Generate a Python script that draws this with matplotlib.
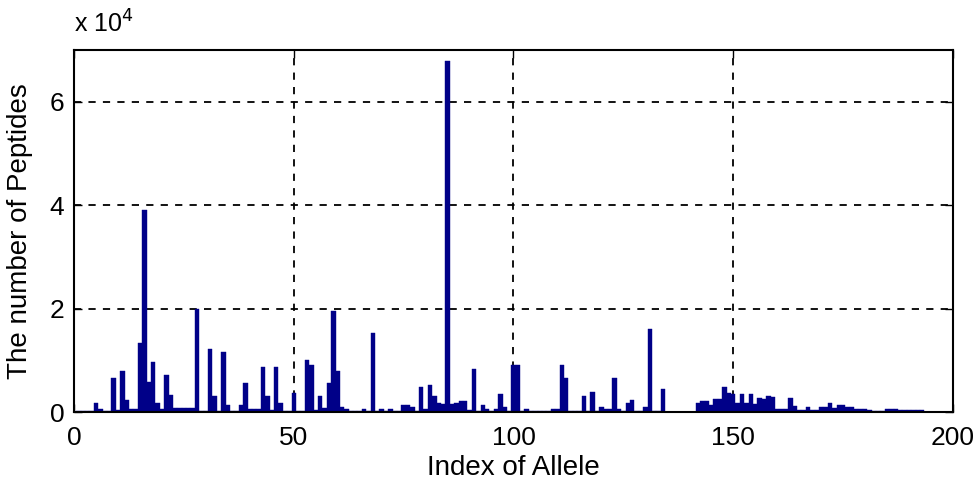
import matplotlib.pyplot as plt
import numpy as np
from matplotlib.ticker import FuncFormatter

# peptide counts per allele, read in units of 10^4 (allele 1..193)
counts_1e4 = [
    0.02, 0.02, 0.02, 0.02, 0.18, 0.06, 0.02, 0.02, 0.65, 0.04,   # 1-10
    0.79, 0.23, 0.05, 0.05, 1.34, 3.90, 0.58, 0.97, 0.18, 0.05,   # 11-20
    0.71, 0.33, 0.08, 0.08, 0.08, 0.08, 0.08, 1.99, 0.02, 0.02,   # 21-30
    1.21, 0.31, 0.02, 1.17, 0.13, 0.02, 0.02, 0.13, 0.57, 0.06,   # 31-40
    0.06, 0.06, 0.87, 0.31, 0.03, 0.87, 0.18, 0.02, 0.02, 0.36,   # 41-50
    0.02, 0.02, 1.00, 0.91, 0.03, 0.31, 0.08, 0.57, 1.96, 0.79,   # 51-60
    0.10, 0.05, 0.02, 0.02, 0.02, 0.05, 0.02, 1.52, 0.02, 0.05,   # 61-70
    0.02, 0.05, 0.02, 0.02, 0.13, 0.13, 0.10, 0.02, 0.49, 0.05,   # 71-80
    0.52, 0.31, 0.18, 0.15, 6.78, 0.15, 0.18, 0.22, 0.22, 0.03,   # 81-90
    0.83, 0.02, 0.14, 0.05, 0.02, 0.05, 0.35, 0.10, 0.02, 0.91,   # 91-100
    0.91, 0.02, 0.05, 0.02, 0.02, 0.02, 0.02, 0.02, 0.05, 0.05,   # 101-110
    0.91, 0.65, 0.02, 0.02, 0.02, 0.31, 0.02, 0.39, 0.02, 0.09,   # 111-120
    0.05, 0.05, 0.65, 0.05, 0.02, 0.18, 0.23, 0.02, 0.02, 0.09,   # 121-130
    1.60, 0.02, 0.02, 0.44, 0.01, 0.01, 0.01, 0.01, 0.01, 0.01,   # 131-140
    0.01, 0.18, 0.22, 0.22, 0.14, 0.25, 0.25, 0.48, 0.37, 0.35,   # 141-150
    0.18, 0.35, 0.18, 0.35, 0.16, 0.27, 0.25, 0.31, 0.30, 0.05,   # 151-160
    0.05, 0.05, 0.27, 0.12, 0.03, 0.03, 0.10, 0.04, 0.04, 0.10,   # 161-170
    0.10, 0.17, 0.08, 0.14, 0.14, 0.10, 0.10, 0.05, 0.05, 0.05,   # 171-180
    0.04, 0.02, 0.02, 0.02, 0.06, 0.06, 0.06, 0.03, 0.03, 0.03,   # 181-190
    0.03, 0.03, 0.03,                                             # 191-193
]
allele_index = np.arange(1, len(counts_1e4) + 1)
peptides = np.array(counts_1e4) * 1e4

plt.rcParams['font.family'] = ['Liberation Sans', 'DejaVu Sans']

fig = plt.figure(figsize=(9.78, 4.88), dpi=100)
ax = fig.add_axes([0.0757, 0.1557, 0.8987, 0.7418])

ax.bar(allele_index, peptides, width=1.0, color='#000088', edgecolor='#000088',
       linewidth=0.3, zorder=2)

ax.set_xlim(0, 200)
ax.set_ylim(0, 7e4)
ax.set_xticks([0, 50, 100, 150, 200])
ax.set_yticks([0, 2e4, 4e4, 6e4])
ax.yaxis.set_major_formatter(FuncFormatter(lambda v, p: f"{v / 1e4:g}"))

# MATLAB-like look: dashed grid, inward ticks on all sides
ax.grid(True, color='black', linestyle=(0, (4, 4)), linewidth=1.3, zorder=1)
ax.tick_params(direction='in', top=True, right=True, length=6, width=1,
               labelsize=19, pad=7)
ax.tick_params(axis='x', pad=10)
for s in ax.spines.values():
    s.set_linewidth(1.5)

ax.set_xlabel("Index of Allele", fontsize=20, labelpad=4)
ax.set_ylabel("The number of Peptides", fontsize=20, labelpad=12)
ax.text(0.0, 1.035, r"x 10$^{4}$", transform=ax.transAxes, fontsize=18,
        ha='left', va='bottom')

fig.savefig("out.png", dpi=100)
